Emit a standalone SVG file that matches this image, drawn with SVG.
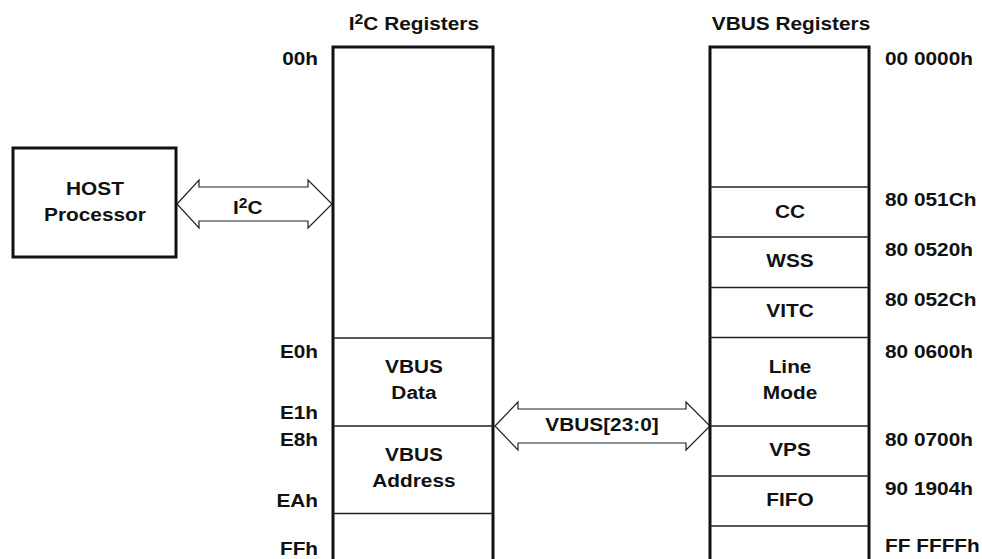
<svg xmlns="http://www.w3.org/2000/svg" width="982" height="559" viewBox="0 0 982 559">
<style>
text{font-family:"Liberation Sans",Arial,Helvetica,sans-serif;font-weight:bold;font-size:18.6px;fill:#111}
.c{text-anchor:middle}
.r{text-anchor:end}
.box{fill:#fff;stroke:#111;stroke-width:3}
.div{stroke:#222;stroke-width:1.3;fill:none}
.arr{fill:#fff;stroke:#222;stroke-width:1.2;stroke-linejoin:miter}
.sup{font-size:14px}
</style>
<rect width="982" height="559" fill="#fff"/>
<g id="connectors">
<path class="arr" d="M177,204 L199,180 L199,187 L308,187 L308,180 L332,204 L308,228 L308,221 L199,221 L199,228 Z"/>
<path class="arr" d="M495,426 L518,402 L518,409 L686,409 L686,402 L710,426 L686,450 L686,443 L518,443 L518,450 Z"/>
<g transform="scale(1.12,1)">
<text x="208" y="214">I<tspan class="sup" dy="-6">2</tspan><tspan dy="6">C</tspan></text>
<text class="c" x="537.5" y="431">VBUS[23:0]</text>
</g>
</g>
<g id="host">
<rect class="box" x="13" y="148" width="163" height="109"/>
<g transform="scale(1.12,1)">
<text class="c" x="84.8" y="195">HOST</text>
<text class="c" x="84.8" y="221">Processor</text>
</g>
</g>
<g id="i2c-registers">
<rect class="box" x="333" y="47" width="160" height="530"/>
<line class="div" x1="333" y1="338" x2="493" y2="338"/>
<line class="div" x1="333" y1="426" x2="493" y2="426"/>
<line class="div" x1="333" y1="513.5" x2="493" y2="513.5"/>
<g transform="scale(1.12,1)">
<text class="c" x="369.6" y="30">I<tspan class="sup" dy="-6">2</tspan><tspan dy="6">C Registers</tspan></text>
<text class="c" x="369.6" y="373">VBUS</text>
<text class="c" x="369.6" y="399">Data</text>
<text class="c" x="369.6" y="461">VBUS</text>
<text class="c" x="369.6" y="487">Address</text>
<text class="r" x="284" y="65">00h</text>
<text class="r" x="284" y="358">E0h</text>
<text class="r" x="284" y="419">E1h</text>
<text class="r" x="284" y="446">E8h</text>
<text class="r" x="284" y="507">EAh</text>
<text class="r" x="284" y="555">FFh</text>
</g>
</g>
<g id="vbus-registers">
<rect class="box" x="710" y="47" width="159" height="530"/>
<line class="div" x1="710" y1="187" x2="869" y2="187"/>
<line class="div" x1="710" y1="237" x2="869" y2="237"/>
<line class="div" x1="710" y1="287.5" x2="869" y2="287.5"/>
<line class="div" x1="710" y1="337.5" x2="869" y2="337.5"/>
<line class="div" x1="710" y1="426" x2="869" y2="426"/>
<line class="div" x1="710" y1="476" x2="869" y2="476"/>
<line class="div" x1="710" y1="526" x2="869" y2="526"/>
<g transform="scale(1.12,1)">
<text class="c" x="706.3" y="30">VBUS Registers</text>
<text class="c" x="705.4" y="218">CC</text>
<text class="c" x="705.4" y="267">WSS</text>
<text class="c" x="705.4" y="317">VITC</text>
<text class="c" x="705.4" y="373">Line</text>
<text class="c" x="705.4" y="399">Mode</text>
<text class="c" x="705.4" y="456">VPS</text>
<text class="c" x="705.4" y="506">FIFO</text>
<text x="790.2" y="65">00 0000h</text>
<text x="790.2" y="206">80 051Ch</text>
<text x="790.2" y="256">80 0520h</text>
<text x="790.2" y="306">80 052Ch</text>
<text x="790.2" y="358">80 0600h</text>
<text x="790.2" y="446">80 0700h</text>
<text x="790.2" y="495">90 1904h</text>
<text x="790.2" y="552">FF FFFFh</text>
</g>
</g>
</svg>
